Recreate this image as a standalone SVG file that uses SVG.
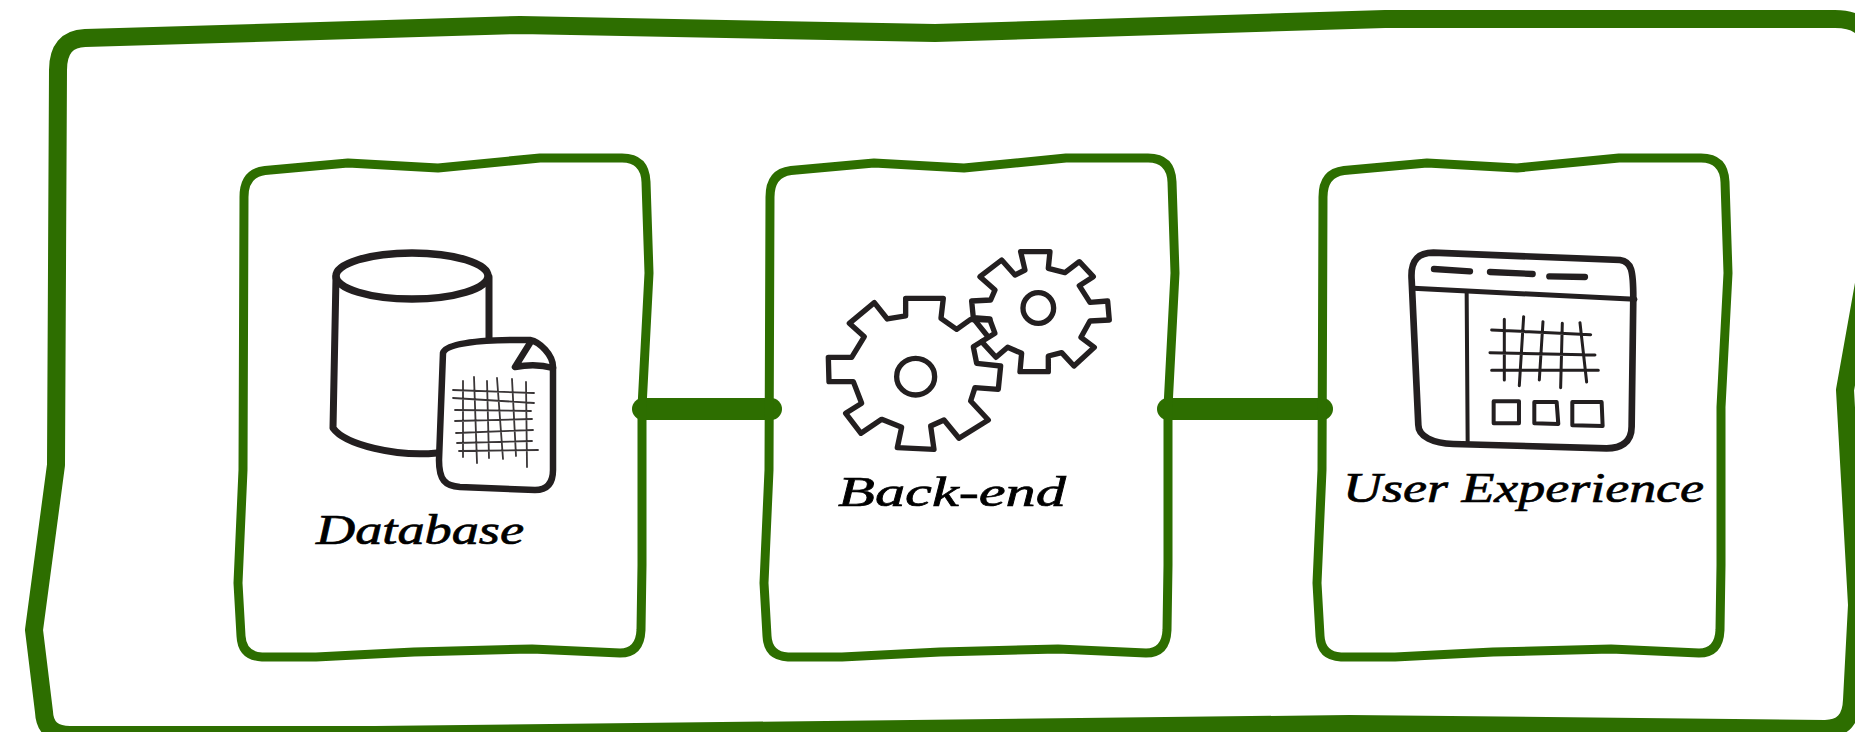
<svg xmlns="http://www.w3.org/2000/svg" xmlns:xlink="http://www.w3.org/1999/xlink" width="1855" height="732" viewBox="0 0 1855 732">
<style>
.frame{fill:none;stroke:#2d6e00;stroke-linejoin:round}
.box{stroke-width:9}
.outer{stroke-width:18}
.link{fill:none;stroke:#2d6e00;stroke-width:22;stroke-linecap:round}
.ico{fill:none;stroke:#231f20;stroke-linejoin:round;stroke-linecap:round}
.label{font-family:"Liberation Serif",serif;font-style:italic;font-size:42px;fill:#000;stroke:#000;stroke-width:.7px}
</style>
<defs>
<path id="boxShape" class="frame box" d="M244,197 Q244,173 265,170.500 L348,163 L438,168 L540,158 L622,158 Q645,158 646,182 L649,273 L642,407 L642,565 L641,630 Q640,653 620,653 L532,649 L414,652 L316,657 L262,657 Q242,656 241,636 L238,583 L243,470 Z"/>
</defs>
<rect width="1855" height="732" fill="#fff"/>
<g id="system-frame">
<path class="frame outer" d="M58,70 Q58,39 85,38 L520,25 L935,33 L1385,19 L1835,19 Q1868,19 1868,45 L1870,250 L1845,390 L1857,605 L1852,700 Q1851,729 1825,729 L1349,724 L375,735 L70,735 Q45,735 44,712 L34,630 L56,465 Z"/>
</g>
<g id="connectors">
<line class="link" x1="643" y1="409" x2="771" y2="409"/>
<line class="link" x1="1168" y1="409" x2="1322" y2="409"/>
</g>
<g id="node-database">
<use href="#boxShape"/>
<g class="ico">
<path stroke-width="7" d="M336,277 L333,428 C345,445 397,457 437,453"/>
<path stroke-width="7" d="M489,277 L489,340"/>
<ellipse stroke-width="7.500" cx="412" cy="276" rx="76" ry="23"/>
<path stroke-width="6.500" fill="#fff" d="M443,353 C446,343 480,340 520,340 L530,340 C540,342 553,355 553,367 L553,470 C553,482 548,490 535,490 L460,487 C445,486 439,480 439,460 Z"/>
<path stroke-width="6.500" d="M530,343 L515,367 C530,364 543,365 553,368"/>
<path stroke="#3a3637" stroke-width="1.800" d="M453,390L534,393M453,398L534,403M455,410L531,411M455,421L532,419M456,433L533,430M457,443L532,441M459,451L538,450M463,381L463,457M474,377L477,463M487,381L489,458M497,378L503,459M512,379L516,456M526,382L527,467"/>
</g>
<text class="label" x="316" y="544" textLength="208" lengthAdjust="spacingAndGlyphs">Database</text>
</g>
<g id="node-backend">
<use href="#boxShape" transform="translate(526,0)"/>
<g class="ico" transform="translate(760,220) scale(.3333)" stroke-width="16">
<path d="M690,297 L640,293 L635,243 L692,240 L705,210 L660,170 L725,120 L765,165 L795,150 L782,95 L870,95 L865,145 L915,158 L958,125 L1000,170 L958,197 L990,247 L1043,243 L1048,300 L990,303 L963,352 L1003,382 L942,438 L905,398 L865,408 L865,455 L780,455 L785,400 L743,382 L708,412 L665,365"/>
<path d="M640,295 L680,345"/>
<path d="M437,235 L550,235 L543,295 L590,328 L632,298 L690,300 L705,340 L640,380 L650,430 L722,438 L715,508 L645,503 L632,543 L685,600 L597,655 L552,600 L512,618 L522,688 L412,683 L425,622 L365,598 L303,640 L257,580 L305,550 L280,485 L207,485 L205,412 L275,412 L313,350 L268,310 L343,248 L382,297 L437,288 Z"/>
<ellipse cx="467" cy="470" rx="57" ry="55"/>
<circle cx="835" cy="264" r="46"/>
</g>
<text class="label" x="838" y="506" textLength="228" lengthAdjust="spacingAndGlyphs">Back-end</text>
</g>
<g id="node-user-experience">
<use href="#boxShape" transform="translate(1079,0)"/>
<g class="ico" transform="translate(1320,220) scale(.3333)">
<path stroke-width="20" d="M275,180 C270,115 300,98 340,98 L900,120 C935,125 940,150 940,235 L935,620 C935,670 900,685 860,685 L400,672 C340,670 295,650 295,615 Z"/>
<path stroke-width="15" d="M280,205 L945,238"/>
<path stroke-width="12" d="M440,215 L443,665"/>
<path stroke-width="19" d="M342,147 L450,154M510,156 L638,162M688,169 L795,171"/>
<path stroke-width="9" d="M515,330L812,344M510,398L825,405M515,451L835,451M553,298L553,480M611,290L598,497M669,305L658,480M727,310L722,503M780,308L800,486"/>
<path stroke-width="12" d="M521,544H597V610H521ZM643,546H710L715,612L643,610ZM757,546H845L848,618L757,616Z"/>
</g>
<text class="label" x="1343" y="502" textLength="361" lengthAdjust="spacingAndGlyphs">User Experience</text>
</g>
</svg>
